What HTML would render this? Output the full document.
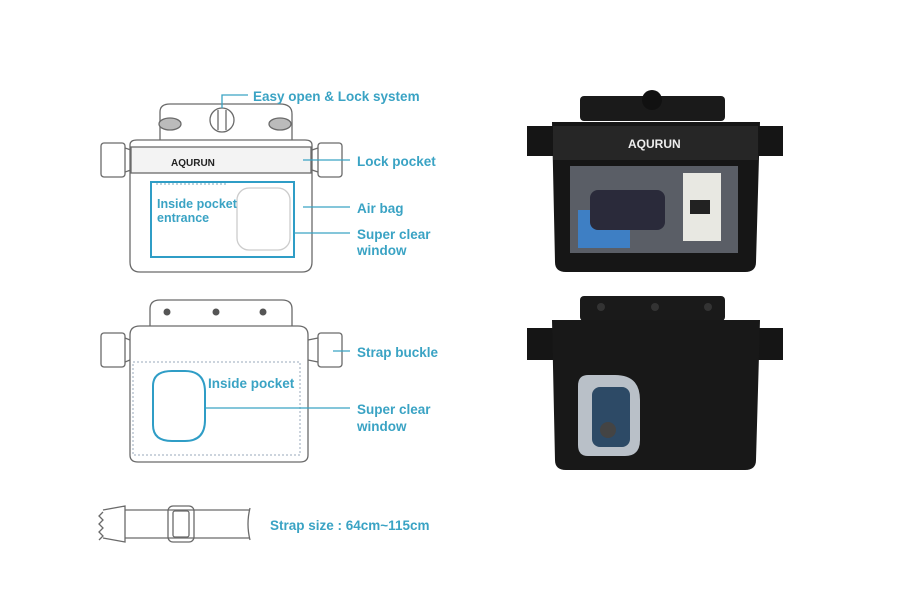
<!DOCTYPE html>
<html><head><style>
html,body{margin:0;padding:0;background:#fff;}
svg{display:block}
text{font-family:"Liberation Sans",sans-serif;fill:#3aa3c4;font-size:13.5px;font-weight:bold;}
</style></head><body>
<svg width="900" height="599" viewBox="0 0 900 599" xmlns="http://www.w3.org/2000/svg">
<rect width="900" height="599" fill="#fff"/>
<g fill="none" stroke="#6a6a6a" stroke-width="1.3">
 <path d="M160 140 L160 112 Q160 104 170 104 L280 104 Q292 104 292 114 L292 140"/>
 <path d="M130 145 L130 262 Q130 272 140 272 L302 272 Q312 272 312 262 L312 145 Q312 140 305 140 L137 140 Q130 140 130 145Z"/>
 <rect x="131" y="147" width="180" height="26" fill="#f3f3f3"/>
 <rect x="101" y="143" width="24" height="34" rx="3"/>
 <rect x="318" y="143" width="24" height="34" rx="3"/>
 <path d="M125 148 L131 150 M125 172 L131 170 M318 148 L312 150 M318 172 L312 170"/>
 <circle cx="222" cy="120" r="12" fill="#fff"/>
 <path d="M218 110 L218 130 M226 110 L226 130"/>
 <ellipse cx="170" cy="124" rx="11" ry="6" fill="#bbb"/>
 <ellipse cx="280" cy="124" rx="11" ry="6" fill="#bbb"/>
 <rect x="237" y="188" width="53" height="62" rx="12" stroke="#ccc"/>
 <path d="M150 326 L150 309 Q150 300 160 300 L282 300 Q292 300 292 309 L292 326"/>
 <path d="M130 335 L130 455 Q130 462 138 462 L300 462 Q308 462 308 455 L308 335 Q308 326 298 326 L140 326 Q130 326 130 335Z"/>
 <rect x="101" y="333" width="24" height="34" rx="3"/>
 <rect x="318" y="333" width="24" height="34" rx="3"/>
 <path d="M125 338 L130 340 M125 362 L130 360 M318 338 L308 340 M318 362 L308 360"/>
 <path d="M133 362 L300 362 L300 455 L133 455 Z" stroke="#9ab" stroke-dasharray="2 2" stroke-width="1"/>
 <path d="M125 510 L250 510 M125 538 L250 538 M250 508 Q246 524 250 540"/>
 <path d="M103 510 L125 506 L125 542 L103 538 M103 512 l-4 4 l4 4 l-4 4 l4 4 l-4 4 l4 4 l-4 4"/>
 <rect x="168" y="506" width="26" height="36" rx="5"/>
 <rect x="173" y="511" width="16" height="26" rx="2"/>
</g>
<g fill="#555"><circle cx="167" cy="312" r="3.5"/><circle cx="216" cy="312" r="3.5"/><circle cx="263" cy="312" r="3.5"/></g>
<text x="171" y="166" font-size="10" style="fill:#222;font-size:10px">AQURUN</text>
<g fill="none" stroke="#2f9dc6" stroke-width="2">
 <rect x="151" y="182" width="143" height="75"/>
 <path d="M172 371 L185 371 Q205 371 205 392 L205 420 Q205 441 185 441 L172 441 Q153 441 153 425 L153 386 Q153 371 172 371Z"/>
</g>
<path d="M156 184 L228 184" stroke="#7ab" stroke-dasharray="2 2"/>
<g stroke="#3aa3c4" stroke-width="1.3" fill="none">
 <path d="M222 108 L222 95 L248 95"/>
 <path d="M303 160 L350 160"/>
 <path d="M303 207 L350 207"/>
 <path d="M294 233 L350 233"/>
 <path d="M333 351 L350 351"/>
 <path d="M206 408 L350 408"/>
</g>
<text x="253" y="101">Easy open &amp; Lock system</text>
<text x="357" y="166">Lock pocket</text>
<text x="357" y="213">Air bag</text>
<text x="357" y="239">Super clear</text>
<text x="357" y="255">window</text>
<text x="157" y="208" style="font-size:12.5px">Inside pocket</text>
<text x="157" y="222" style="font-size:12.5px">entrance</text>
<text x="357" y="357">Strap buckle</text>
<text x="208" y="388">Inside pocket</text>
<text x="357" y="414">Super clear</text>
<text x="357" y="431">window</text>
<text x="270" y="530">Strap size : 64cm~115cm</text>
<g>
 <rect x="580" y="96" width="145" height="25" rx="4" fill="#1a1a1a"/>
 <circle cx="652" cy="100" r="10" fill="#111"/>
 <rect x="527" y="126" width="26" height="30" fill="#151515"/>
 <rect x="757" y="126" width="26" height="30" fill="#151515"/>
 <path d="M552 122 L760 122 L756 262 Q756 272 745 272 L566 272 Q555 272 555 262 Z" fill="#161616"/>
 <rect x="553" y="126" width="205" height="34" fill="#262626"/>
 <text x="628" y="148" style="fill:#eee;font-size:12px">AQURUN</text>
 <rect x="570" y="166" width="168" height="87" fill="#5a5e66"/>
 <rect x="578" y="210" width="52" height="38" fill="#3e7fc4"/>
 <rect x="590" y="190" width="75" height="40" rx="8" fill="#2a2a3a"/>
 <rect x="683" y="173" width="38" height="68" fill="#e8e8e2"/>
 <rect x="690" y="200" width="20" height="14" fill="#222"/>
 <rect x="580" y="296" width="145" height="25" rx="4" fill="#1a1a1a"/>
 <circle cx="601" cy="307" r="4" fill="#333"/><circle cx="655" cy="307" r="4" fill="#333"/><circle cx="708" cy="307" r="4" fill="#333"/>
 <rect x="527" y="328" width="26" height="32" fill="#151515"/>
 <rect x="757" y="328" width="26" height="32" fill="#151515"/>
 <path d="M552 320 L760 320 L756 460 Q756 470 745 470 L566 470 Q555 470 555 460 Z" fill="#181818"/>
 <path d="M588 375 L615 375 Q640 375 640 400 L640 440 Q640 456 625 456 L588 456 Q578 456 578 445 L578 386 Q578 375 588 375Z" fill="#b9c0c8"/>
 <rect x="592" y="387" width="38" height="60" rx="8" fill="#2d4a66"/>
 <circle cx="608" cy="430" r="8" fill="#444"/>
</g>
</svg>
</body></html>
